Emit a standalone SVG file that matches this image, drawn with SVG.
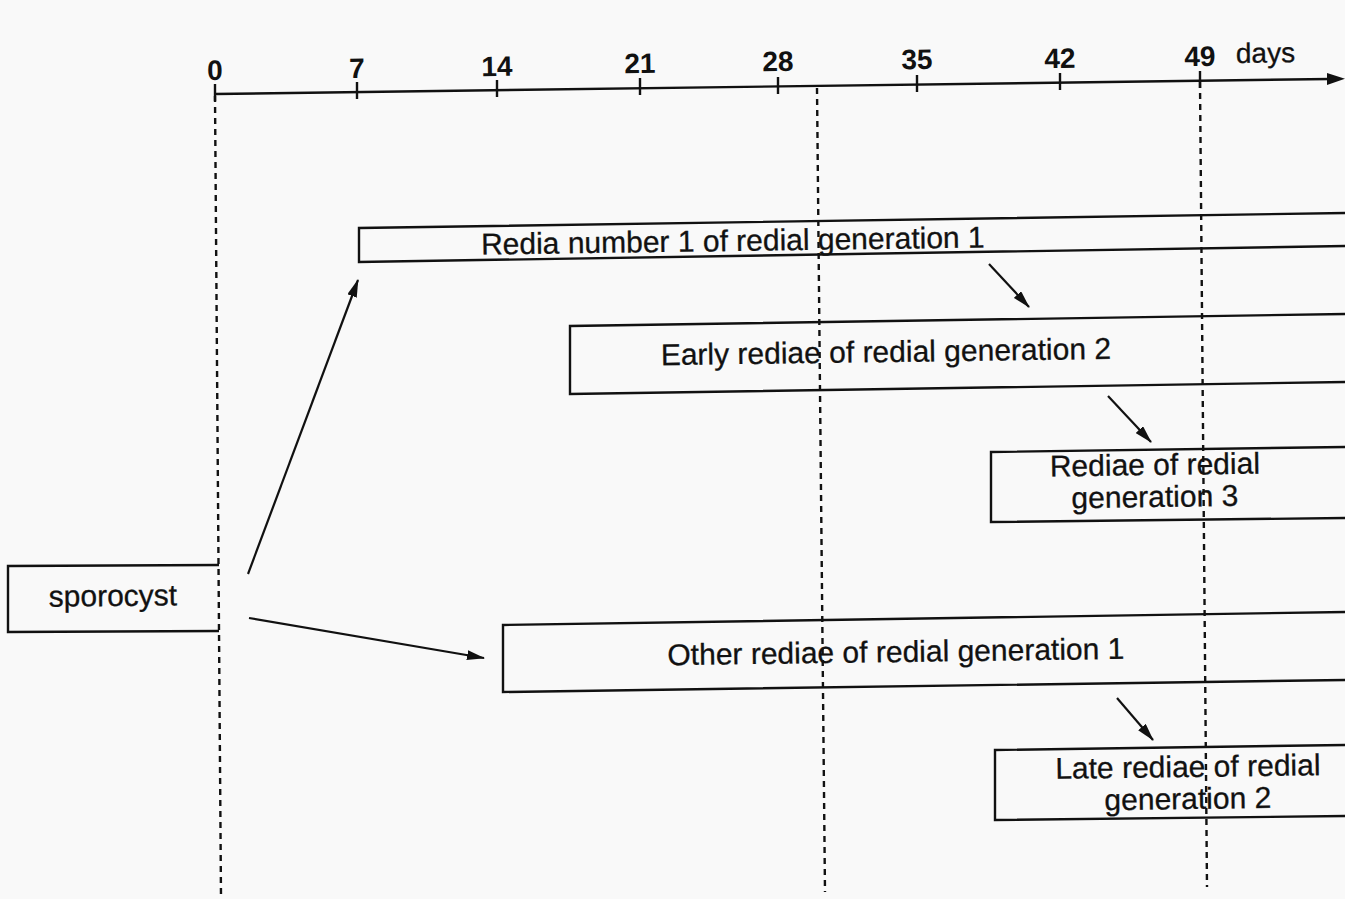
<svg xmlns="http://www.w3.org/2000/svg" width="1345" height="899" viewBox="0 0 1345 899">
<style>
  .box { fill: none; stroke: #111; stroke-width: 2.4; stroke-linejoin: miter; }
  .lbl { font-family: "Liberation Sans", Arial, sans-serif; font-size: 30px; fill: #111; text-anchor: middle; stroke: #111; stroke-width: 0.3; }
  .tick { font-family: "Liberation Sans", Arial, sans-serif; font-size: 28px; font-weight: bold; fill: #111; text-anchor: middle; }
  .days { font-family: "Liberation Sans", Arial, sans-serif; font-size: 28px; fill: #111; stroke: #111; stroke-width: 0.3; }
  .dash { stroke: #111; stroke-width: 2.4; stroke-dasharray: 6 5; fill: none; }
  .axis { stroke: #111; stroke-width: 2.4; fill: none; }
  .conn { stroke: #111; stroke-width: 2.2; fill: none; marker-end: url(#ah); }
</style>
<defs>
  <marker id="ah" viewBox="0 0 18 10" refX="17" refY="5" markerWidth="18" markerHeight="10" markerUnits="userSpaceOnUse" orient="auto">
    <path d="M0,0 L18,5 L0,10 z" fill="#111"/>
  </marker>
</defs>
<rect x="0" y="0" width="1345" height="899" fill="#f9f9f9"/>

<g id="axis">
  <path class="axis" d="M215,94 L1330,79"/>
  <path d="M1345,78.8 L1327,73 L1327,85 z" fill="#111"/>
  <g stroke="#111" stroke-width="2.4">
    <line x1="215" y1="84" x2="215" y2="101"/>
    <line x1="357" y1="82" x2="357" y2="99"/>
    <line x1="497" y1="80" x2="497" y2="97"/>
    <line x1="640" y1="78" x2="640" y2="95"/>
    <line x1="778" y1="77" x2="778" y2="94"/>
    <line x1="917" y1="75" x2="917" y2="92"/>
    <line x1="1060" y1="73" x2="1060" y2="90"/>
    <line x1="1200" y1="71" x2="1200" y2="88"/>
  </g>
  <text class="tick" x="215" y="80" transform="rotate(-0.8 215 80)">0</text>
  <text class="tick" x="357" y="78" transform="rotate(-0.8 357 78)">7</text>
  <text class="tick" x="497" y="76" transform="rotate(-0.8 497 76)">14</text>
  <text class="tick" x="640" y="73" transform="rotate(-0.8 640 73)">21</text>
  <text class="tick" x="778" y="71" transform="rotate(-0.8 778 71)">28</text>
  <text class="tick" x="917" y="69" transform="rotate(-0.8 917 69)">35</text>
  <text class="tick" x="1060" y="68" transform="rotate(-0.8 1060 68)">42</text>
  <text class="tick" x="1200" y="66" transform="rotate(-0.8 1200 66)">49</text>
  <text class="days" x="1236" y="63" transform="rotate(-0.8 1236 63)">days</text>
</g>

<g id="gridlines">
  <path class="dash" d="M215,96 L221,897"/>
  <path class="dash" d="M817,88 L825,892"/>
  <path class="dash" d="M1200,82 L1207,887"/>
</g>

<g id="sporocyst">
  <path class="box" d="M219,565 L8,566 L8,632 L219,631"/>
  <text class="lbl" x="113" y="606" transform="rotate(-0.6 113 606)">sporocyst</text>
</g>

<g id="redia1">
  <path class="box" d="M1345,213 L359,228 L359,262 L1345,246"/>
  <text class="lbl" x="733" y="251" transform="rotate(-0.8 733 251)">Redia number 1 of redial generation 1</text>
</g>

<g id="early2">
  <path class="box" d="M1345,314 L570,326 L570,394 L1345,382"/>
  <text class="lbl" x="886" y="362" transform="rotate(-0.8 886 362)">Early rediae of redial generation 2</text>
</g>

<g id="gen3">
  <path class="box" d="M1345,447 L991,452 L991,522 L1345,518"/>
  <text class="lbl" x="1155" y="475" transform="rotate(-0.8 1155 475)">Rediae of redial</text>
  <text class="lbl" x="1155" y="507" transform="rotate(-0.8 1155 507)">generation 3</text>
</g>

<g id="other1">
  <path class="box" d="M1345,612 L503,625 L503,692 L1345,680"/>
  <text class="lbl" x="896" y="662" transform="rotate(-0.8 896 662)">Other rediae of redial generation 1</text>
</g>

<g id="late2">
  <path class="box" d="M1345,745 L995,750 L995,820 L1345,816"/>
  <text class="lbl" x="1188" y="777" transform="rotate(-0.8 1188 777)">Late rediae of redial</text>
  <text class="lbl" x="1188" y="809" transform="rotate(-0.8 1188 809)">generation 2</text>
</g>

<g id="connectors">
  <line class="conn" x1="248" y1="574" x2="358" y2="280"/>
  <line class="conn" x1="249" y1="618" x2="484" y2="658"/>
  <line class="conn" x1="989" y1="264" x2="1029" y2="307"/>
  <line class="conn" x1="1108" y1="396" x2="1151" y2="442"/>
  <line class="conn" x1="1117" y1="698" x2="1153" y2="740"/>
</g>
</svg>
